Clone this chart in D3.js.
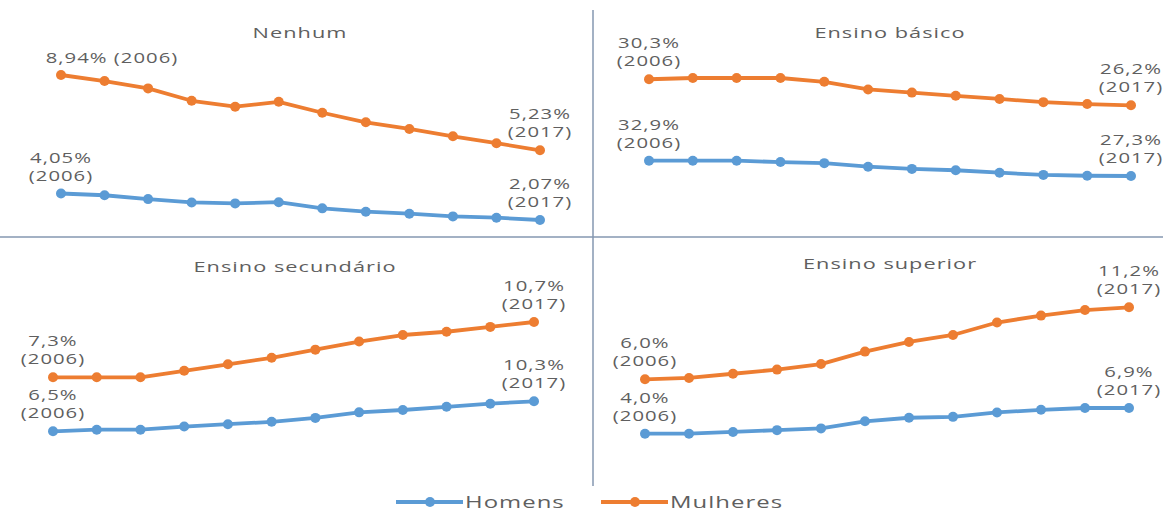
<!DOCTYPE html>
<html>
<head>
<meta charset="utf-8">
<script src="https://cdn.jsdelivr.net/npm/d3@7"></script>
<style>
  body { margin: 0; background: #fff; }
  text { font-family: "Open Sans", sans-serif; fill: #5f5f5f; letter-spacing: 0.7px; }
</style>
</head>
<body>
<script>
// years on the x axis
var years = [2006, 2007, 2008, 2009, 2010, 2011, 2012, 2013, 2014, 2015, 2016, 2017];
var categories = ["Nenhum", "Ensino básico", "Ensino secundário", "Ensino superior"];
var seriesNames = ["Homens", "Mulheres"];

// values (%)
var nenhumHomens = [4.05, 3.92, 3.63, 3.38, 3.31, 3.40, 2.94, 2.69, 2.54, 2.34, 2.24, 2.07];
var nenhumMulheres = [8.94, 8.64, 8.28, 7.67, 7.38, 7.62, 7.08, 6.61, 6.28, 5.92, 5.58, 5.23];
var basicoHomens = [32.9, 32.9, 32.9, 32.4, 32.0, 30.7, 29.9, 29.4, 28.5, 27.7, 27.4, 27.3];
var basicoMulheres = [30.3, 30.5, 30.5, 30.5, 29.9, 28.7, 28.2, 27.7, 27.2, 26.7, 26.4, 26.2];
var secundarioHomens = [6.5, 6.7, 6.7, 7.1, 7.4, 7.7, 8.2, 8.9, 9.2, 9.6, 10.0, 10.3];
var secundarioMulheres = [7.3, 7.3, 7.3, 7.7, 8.1, 8.5, 9.0, 9.5, 9.9, 10.1, 10.4, 10.7];
var superiorHomens = [4.0, 4.0, 4.2, 4.4, 4.6, 5.4, 5.8, 5.9, 6.4, 6.7, 6.9, 6.9];
var superiorMulheres = [6.0, 6.1, 6.4, 6.7, 7.1, 8.0, 8.7, 9.2, 10.1, 10.6, 11.0, 11.2];
var decimals = [2, 1, 1, 1];

var colors = {Homens: "#5b9bd5", Mulheres: "#ed7d31"};
var W = 1163, H = 513;

// panel layout: origin, x range, y band of each series [top, bottom], title position
var panels = [
  {name: categories[0], h: nenhumHomens, m: nenhumMulheres, oy: 0, xr: [61, 540],
   bandM: [75, 150.3], bandH: [193.5, 220], tx: 300, ty: 38, startM: "one", startDx: [0, 51]},
  {name: categories[1], h: basicoHomens, m: basicoMulheres, oy: 0, xr: [649, 1131],
   bandM: [78, 105.3], bandH: [160.7, 176], tx: 890, ty: 38, startDx: [0, 0]},
  {name: categories[2], h: secundarioHomens, m: secundarioMulheres, oy: 237, xr: [53, 534],
   bandM: [85, 140.3], bandH: [164.3, 194.3], tx: 295, ty: 35, startDx: [0, 0]},
  {name: categories[3], h: superiorHomens, m: superiorMulheres, oy: 237, xr: [645, 1129],
   bandM: [70.3, 142.3], bandH: [171, 196.7], tx: 890, ty: 32, startDx: [0, 0]}
];

var svg = d3.select("body").append("svg")
    .attr("width", W)
    .attr("height", H);

// the original text is stretched sideways
function addText(g, x, y, str, size, anchor, sx) {
  return g.append("text")
      .attr("transform", "translate(" + x + "," + y + ") scale(" + (sx || 1.45) + ",1)")
      .attr("text-anchor", anchor || "middle")
      .style("font-size", size + "px")
      .text(str);
}

function fmt(v, d) {
  return d3.format("." + d + "f")(v).replace(".", ",") + "%";
}

// divider lines
svg.append("line").attr("x1", 0).attr("x2", W).attr("y1", 237).attr("y2", 237)
    .attr("stroke", "#8497b0").attr("stroke-width", 1.5);
svg.append("line").attr("x1", 593).attr("x2", 593).attr("y1", 10).attr("y2", 486)
    .attr("stroke", "#8497b0").attr("stroke-width", 1.5);

panels.forEach(function(p, pi) {
  var g = svg.append("g").attr("transform", "translate(0," + p.oy + ")");
  var x = d3.scalePoint().domain(years).range(p.xr);

  addText(g, p.tx, p.ty, p.name, 15);

  [["Homens", p.h, p.bandH], ["Mulheres", p.m, p.bandM]].forEach(function(s, si) {
    var vals = s[1];
    var y = d3.scaleLinear().domain(d3.extent(vals)).range([s[2][1], s[2][0]]);
    var pts = years.map(function(yr, i) { return {year: yr, v: vals[i]}; });
    var line = d3.line().x(function(d) { return x(d.year); }).y(function(d) { return y(d.v); });

    g.append("path").datum(pts)
        .attr("d", line)
        .attr("fill", "none")
        .attr("stroke", colors[s[0]])
        .attr("stroke-width", 3.8)
        .attr("stroke-linejoin", "round");

    g.selectAll(".pt" + si).data(pts).enter().append("circle")
        .attr("cx", function(d) { return x(d.year); })
        .attr("cy", function(d) { return y(d.v); })
        .attr("r", 5)
        .attr("fill", colors[s[0]]);

    var first = pts[0], last = pts[pts.length - 1];
    var d = decimals[pi];
    var dx = p.startDx[si];
    if (s[0] == "Mulheres" && p.startM == "one") {
      addText(g, x(first.year) + dx, y(first.v) - 12, fmt(first.v, d) + " (" + first.year + ")", 14);
    } else {
      addText(g, x(first.year) + dx, y(first.v) - 31, fmt(first.v, d), 14);
      addText(g, x(first.year) + dx, y(first.v) - 13, "(" + first.year + ")", 14);
    }
    addText(g, x(last.year), y(last.v) - 31, fmt(last.v, d), 14);
    addText(g, x(last.year), y(last.v) - 13, "(" + last.year + ")", 14);
  });
});

// legend
var legend = svg.append("g").attr("transform", "translate(0,502)");
var legendX = [396, 601];
seriesNames.forEach(function(n, i) {
  var lx = legendX[i];
  legend.append("line").attr("x1", lx).attr("x2", lx + 67).attr("y1", 0).attr("y2", 0)
      .attr("stroke", colors[n]).attr("stroke-width", 3.8);
  legend.append("circle").attr("cx", lx + 34).attr("cy", 0).attr("r", 5).attr("fill", colors[n]);
  addText(legend, lx + 69, 6, n, 16.5, "start");
});
</script>
</body>
</html>
